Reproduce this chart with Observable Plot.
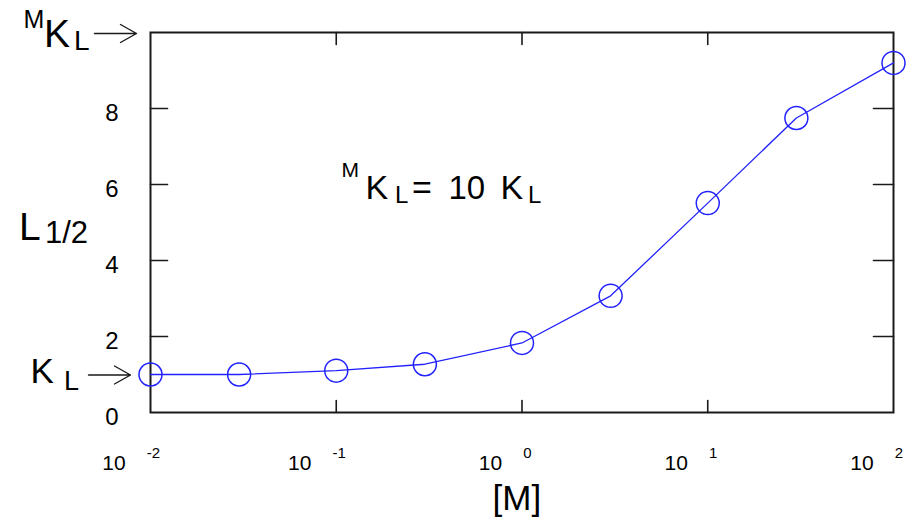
<!DOCTYPE html>
<html><head><meta charset="utf-8">
<script src="https://cdn.jsdelivr.net/npm/d3@7"></script>
<script src="https://cdn.jsdelivr.net/npm/@observablehq/plot@0.6"></script>
<style>
html,body{margin:0;padding:0;background:#fff;}
svg{display:block;}
</style></head><body><div id="chart"></div>
<script>
// Data
const concentrations = [0.01, 0.03, 0.1, 0.3, 1, 3, 10, 30, 100];
const halfSat = [1.0, 1.0, 1.1, 1.27, 1.83, 3.07, 5.51, 7.75, 9.2];
const yTicks = [0, 2, 4, 6, 8];
const yTickLabels = ["0", "2", "4", "6", "8"];
const xTicks = [0.01, 0.1, 1, 10, 100];
const xTickExponents = ["-2", "-1", "0", "1", "2"];
const levelMKL = [10];
const levelKL = [1];

const data = concentrations.map((m, i) => ({m, L: halfSat[i]}));

const ink = "#1a1a1a";
const blue = "#2222ff";
const tickShape = {draw(ctx, l) { ctx.moveTo(0, 0); ctx.lineTo(0, -l); }};
const arrowShape = {draw(ctx, l) {
  ctx.moveTo(0, 0); ctx.lineTo(0, -l);
  ctx.moveTo(-9, -l + 16); ctx.lineTo(0, -l); ctx.lineTo(9, -l + 16);
}};

const chart = Plot.plot({
  width: 919, height: 520,
  marginLeft: 150, marginRight: 26, marginTop: 32, marginBottom: 108,
  style: {fontFamily: "'Liberation Sans', Arial, sans-serif", background: "#fff", color: "#000"},
  x: {type: "log", domain: [0.01, 100], axis: null},
  y: {domain: [0, 10], axis: null},
  marks: [
    Plot.frame({stroke: ink, strokeWidth: 2}),
    Plot.vector(yTicks.slice(1), {y: d => d, frameAnchor: "left", rotate: 90, anchor: "start", length: 17, shape: tickShape, stroke: ink, strokeWidth: 1.6}),
    Plot.vector(yTicks.slice(1), {y: d => d, frameAnchor: "right", rotate: -90, anchor: "start", length: 20, shape: tickShape, stroke: ink, strokeWidth: 1.6}),
    Plot.vector(xTicks.slice(1, -1), {x: d => d, frameAnchor: "bottom", rotate: 0, anchor: "start", length: 12, shape: tickShape, stroke: ink, strokeWidth: 1.6}),
    Plot.vector(xTicks.slice(1, -1), {x: d => d, frameAnchor: "top", rotate: 180, anchor: "start", length: 12, shape: tickShape, stroke: ink, strokeWidth: 1.6}),
    Plot.text(yTicks, {y: d => d, text: (d, i) => yTickLabels[i], frameAnchor: "left", textAnchor: "end", lineAnchor: "bottom", dx: -32, dy: 12.5, fontSize: 24, fill: "#000"}),
    Plot.vector(levelMKL, {y: d => d, frameAnchor: "left", rotate: 90, anchor: "end", length: 42, dx: -14, dy: 1, shape: arrowShape, stroke: ink, strokeWidth: 1.4}),
    Plot.vector(levelKL, {y: d => d, frameAnchor: "left", rotate: 90, anchor: "end", length: 42, dx: -20, dy: 0.5, shape: arrowShape, stroke: ink, strokeWidth: 1.4}),
    Plot.line(data, {x: "m", y: "L", stroke: blue, strokeWidth: 1.3}),
    Plot.dot(data, {x: "m", y: "L", r: 11.5, stroke: blue, strokeWidth: 1.5, fill: "none"})
  ]
});
document.getElementById("chart").appendChild(chart);

const svg = d3.select(chart);
const xs = chart.scale("x");
const font = "'Liberation Sans', Arial, sans-serif";

// x tick labels: 10 with superscript exponent
xTicks.forEach((t, i) => {
  const px = xs.apply(t);
  const txt = svg.append("text")
    .attr("x", px + 10).attr("y", 470)
    .attr("text-anchor", "end").attr("font-size", 21)
    .attr("font-family", font).attr("fill", "#000");
  txt.append("tspan").text("10");
  txt.append("tspan").attr("dx", 21).attr("dy", -12).attr("font-size", 15).text(xTickExponents[i]);
});

function label(x, y, size, str) {
  svg.append("text").attr("x", x).attr("y", y).attr("font-size", size)
    .attr("text-anchor", "start")
    .attr("font-family", font).attr("fill", "#000").text(str);
}
// MK_L (top-left)
label(23.5, 28, 25, "M");
label(44, 47, 39, "K");
label(74, 50, 28, "L");
// K_L (bottom-left)
label(30.5, 383, 35, "K");
label(64, 390, 27, "L");
// L_1/2
label(19, 240, 39, "L");
label(45, 243, 31, "1/2");
// Middle annotation
label(341.5, 177, 21, "M");
label(365.5, 199, 34, "K");
label(395, 203, 24, "L");
label(412, 199, 34, "=");
label(448.5, 199, 33, "10");
label(500.5, 199, 34, "K");
label(528, 203, 24, "L");
// [M]
label(492.5, 510, 35, "[M]");
</script>
</body></html>
